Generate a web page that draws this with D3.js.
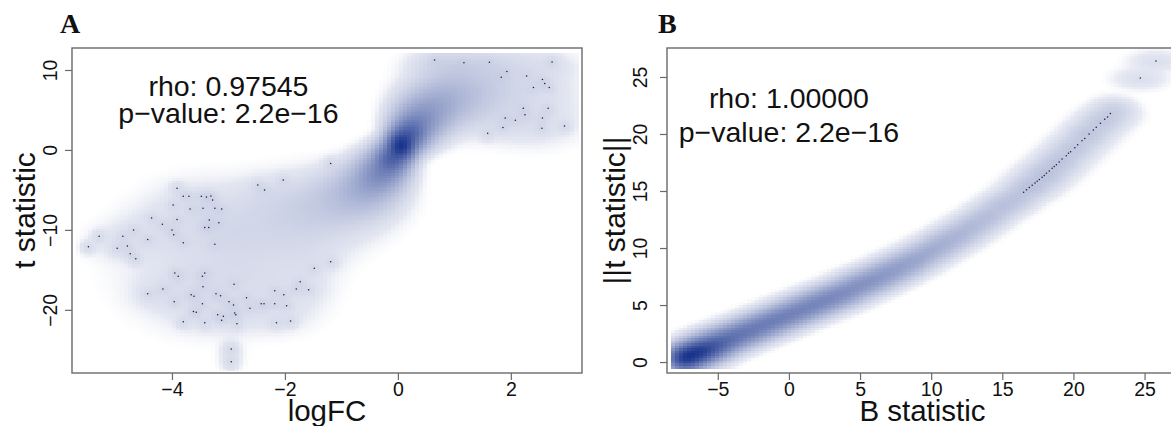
<!DOCTYPE html>
<html>
<head>
<meta charset="utf-8">
<script src="https://cdn.jsdelivr.net/npm/d3@7"></script>
<style>
body { margin: 0; background: #fff; }
svg text { font-family: "Liberation Sans", Arial, sans-serif; fill: #111; }
</style>
</head>
<body>
<div id="chart"></div>
<script>
// ---- panel A: logFC vs t statistic ----
var xTicksA = [-4, -2, 0, 2];
var yTicksA = [-20, -10, 0, 10];
var statsA = ["rho: 0.97545", "p\u2212value: 2.2e\u221216"];
// density: [logFC, t, spread logFC, spread t, genes]
var cloudA = [
  // main ridge through the origin
  [0.05, 0.6, 0.12, 0.9, 3000],
  [0.2, 2.0, 0.15, 1.0, 1400],
  [-0.12, -1.1, 0.15, 1.0, 1400],
  [0.35, 3.4, 0.2, 1.2, 700],
  [-0.3, -2.7, 0.2, 1.2, 700],
  [0.55, 4.9, 0.25, 1.4, 380],
  [-0.5, -4.2, 0.25, 1.4, 350],
  [0.85, 6.3, 0.3, 1.6, 230],
  [-0.8, -5.6, 0.35, 1.6, 180],
  [1.2, 7.5, 0.4, 2.0, 150],
  [-1.3, -7.2, 0.5, 2.0, 100],
  [-2.0, -9.0, 0.6, 2.5, 55],
  [-2.8, -11.5, 0.7, 3.0, 32],
  [-3.5, -14.5, 0.8, 4.0, 18],
  // up-regulated cloud
  [1.8, 7.8, 0.5, 2.4, 40],
  [2.4, 7.0, 0.45, 2.6, 14],
  [2.5, 3.5, 0.4, 1.5, 6],
  [2.0, 3.5, 0.4, 1.3, 7],
  [1.1, 10.5, 0.4, 1.0, 18],
  [1.9, 10.8, 0.3, 1.0, 4],
  [2.6, 10.5, 0.3, 1.0, 4],
  [0.7, 10.8, 0.25, 1.0, 6],
  // down-regulated cloud
  [-3.5, -7.5, 0.5, 2.0, 16],
  [-4.3, -10.5, 0.4, 1.8, 10],
  [-3.0, -10.5, 0.5, 2.0, 16],
  [-3.6, -16.5, 0.5, 2.0, 16],
  [-2.6, -16.0, 0.5, 2.0, 16],
  [-3.2, -20.0, 0.5, 1.6, 13],
  [-2.2, -20.0, 0.4, 1.5, 8],
  [-1.7, -17.0, 0.3, 1.5, 5],
  [-4.2, -18.0, 0.3, 1.2, 4],
  [-1.6, -13.0, 0.35, 1.6, 7],
  [-2.3, -6.0, 0.4, 1.5, 8],
  [-4.9, -11.5, 0.3, 1.3, 4],
  [-2.95, -25.5, 0.12, 1.2, 1.5]
];
// single genes drawn as dots: [logFC, t]
var dotsA = [
  [0.65, 11.25], [1.17, 10.9], [1.62, 10.96], [1.93, 9.8], [1.83, 9.1], [2.28, 9.25],
  [2.4, 7.8], [2.56, 8.8], [2.6, 8.3], [2.68, 7.8], [2.73, 11.0], [2.22, 5.2],
  [2.25, 4.4], [1.9, 4.0], [2.08, 3.7], [1.86, 2.8], [1.59, 2.1], [2.56, 4.0],
  [2.66, 5.2], [2.55, 2.7], [2.95, 3.0],
  [-1.19, -1.7], [-2.03, -3.75], [-2.48, -4.4], [-2.36, -5.0],
  [-3.91, -4.8], [-3.8, -5.8], [-3.7, -5.8], [-3.98, -6.9], [-3.68, -7.4], [-3.91, -8.7],
  [-3.48, -5.8], [-3.39, -5.9], [-3.31, -5.75], [-3.28, -6.25], [-3.45, -7.3], [-3.24, -7.3],
  [-3.12, -7.4], [-3.34, -8.75], [-3.42, -9.7], [-3.35, -9.7], [-3.17, -9.1], [-4.36, -8.5],
  [-4.17, -9.3], [-4.0, -10.0], [-3.97, -10.6], [-4.43, -11.2], [-3.8, -11.6], [-3.24, -11.8],
  [-5.48, -12.1], [-5.29, -10.8], [-4.87, -10.8], [-4.97, -12.3], [-4.79, -12.0], [-4.74, -13.0],
  [-4.64, -13.6], [-4.68, -10.0], [-3.95, -15.4], [-3.89, -15.8], [-3.42, -15.4], [-3.46, -15.8],
  [-3.45, -17.1], [-2.9, -16.8], [-4.43, -18.0], [-4.16, -17.4], [-3.66, -18.1], [-3.61, -18.3],
  [-3.22, -18.0], [-3.14, -18.25], [-3.96, -19.0], [-3.46, -19.25], [-3.62, -20.2], [-3.57, -20.3],
  [-3.19, -20.6], [-3.09, -20.8], [-2.89, -20.4], [-2.87, -20.6], [-3.12, -21.3], [-3.8, -21.5],
  [-3.42, -21.6], [-2.85, -21.75], [-2.99, -19.0], [-2.91, -19.4], [-2.68, -18.5], [-2.62, -19.8],
  [-2.42, -19.25], [-2.37, -19.25], [-2.18, -19.25], [-2.18, -17.6], [-2.02, -18.1], [-1.97, -19.5],
  [-2.15, -21.6], [-1.9, -21.4], [-1.8, -17.4], [-1.73, -16.5], [-1.58, -17.5], [-1.48, -14.8],
  [-1.19, -14.0], [-2.95, -24.9], [-2.95, -26.5]
];

// ---- panel B: B statistic vs |t| ----
var xTicksB = [-5, 0, 5, 10, 15, 20, 25];
var yTicksB = [0, 5, 10, 15, 20, 25];
var statsB = ["rho: 1.00000", "p\u2212value: 2.2e\u221216"];
// density: [B, |t|, spread B, spread |t|, genes]
var cloudB = [
  [-7.3, 0.4, 0.55, 0.5, 900], [-6.5, 0.8, 0.6, 0.5, 800], [-5.8, 1.2, 0.7, 0.5, 600],
  [-5, 1.7, 0.7, 0.5, 380], [-4, 2.2, 0.7, 0.5, 260], [-3, 2.7, 0.7, 0.5, 210],
  [-2, 3.2, 0.7, 0.5, 190], [-1, 3.7, 0.7, 0.5, 175], [0, 4.2, 0.7, 0.5, 160],
  [1, 4.7, 0.7, 0.5, 150], [2, 5.2, 0.7, 0.5, 140], [3, 5.7, 0.7, 0.5, 125],
  [4, 6.2, 0.7, 0.5, 110], [5, 6.8, 0.7, 0.5, 95], [6, 7.3, 0.7, 0.5, 82],
  [7, 7.9, 0.7, 0.5, 70], [8, 8.5, 0.7, 0.5, 56], [9, 9.1, 0.7, 0.5, 45],
  [10, 9.8, 0.7, 0.5, 36], [11, 10.5, 0.7, 0.5, 28], [12, 11.2, 0.7, 0.5, 22],
  [13, 12.0, 0.7, 0.5, 18], [14, 12.8, 0.7, 0.5, 15], [15, 13.7, 0.7, 0.5, 12],
  [16, 14.4, 0.7, 0.5, 10], [17, 15.4, 0.7, 0.5, 9], [18, 16.5, 0.7, 0.5, 8],
  [19, 17.6, 0.7, 0.5, 7], [20, 18.8, 0.7, 0.5, 6], [21, 20.0, 0.7, 0.5, 6],
  [22, 21.1, 0.7, 0.5, 5], [22.8, 22.1, 0.7, 0.5, 4]
];
// single genes drawn as dots: [B, |t|]
var dotsB = [
  [16.5, 14.9], [16.7, 15.1], [16.9, 15.3], [17.1, 15.5], [17.3, 15.7], [17.45, 15.85],
  [17.6, 16.0], [17.8, 16.2], [17.95, 16.35], [18.1, 16.55], [18.3, 16.75], [18.5, 17.0],
  [18.65, 17.15], [18.8, 17.3], [19.0, 17.55], [19.2, 17.8], [19.5, 18.1], [19.65, 18.3],
  [19.8, 18.45], [20.1, 18.8], [20.3, 19.05], [20.6, 19.4], [20.8, 19.6], [21.1, 20.0],
  [21.4, 20.35], [21.6, 20.6], [21.9, 20.95], [22.2, 21.3], [22.4, 21.5], [22.6, 21.8],
  [24.7, 24.9], [25.8, 26.4]
];

var svg = d3.select("#chart").append("svg")
  .attr("width", 1171)
  .attr("height", 426);

var ramp = d3.interpolateRgb("#ffffff", "#1a348c");

function drawPanel(p) {
  var x = d3.scaleLinear().domain(p.xDomain).range([p.left, p.right]);
  var y = d3.scaleLinear().domain(p.yDomain).range([p.bottom, p.top]);
  var g = svg.append("g");

  // smoothScatter-like binned density, fourth-root transformed
  var nb = 128;
  var dx = (p.xDomain[1] - p.xDomain[0]) / nb,
      dy = (p.yDomain[1] - p.yDomain[0]) / nb;
  var cells = [], vmax = 0;
  for (var i = 0; i < nb; i++) {
    for (var j = 0; j < nb; j++) {
      var cx = p.xDomain[0] + (i + 0.5) * dx,
          cy = p.yDomain[0] + (j + 0.5) * dy;
      if (cx < p.densX[0] || cx > p.densX[1] || cy < p.densY[0] || cy > p.densY[1]) continue;
      var v = 0;
      p.cloud.forEach(function(c) {
        var a = (cx - c[0]) / c[2], b = (cy - c[1]) / c[3];
        v += c[4] * Math.exp(-0.5 * (a * a + b * b)) / (c[2] * c[3]);
      });
      p.dots.forEach(function(d) {
        var a = (cx - d[0]) / p.bw[0], b = (cy - d[1]) / p.bw[1];
        v += Math.exp(-0.5 * (a * a + b * b)) / (p.bw[0] * p.bw[1]);
      });
      if (v > vmax) vmax = v;
      cells.push({x0: cx - dx / 2, y0: cy - dy / 2, v: v});
    }
  }
  // soft floor so faint tails fade out quickly, like the original image
  var fade = d3.scaleLinear().domain(p.cut).range([0, 1]).clamp(true);
  cells.forEach(function(c) {
    var t = Math.pow(c.v / vmax, 0.25);
    c.t = t * fade(t);
  });

  var clipId = "clip" + p.letter;
  svg.append("clipPath").attr("id", clipId).append("rect")
    .attr("x", p.left).attr("y", p.top)
    .attr("width", p.right - p.left).attr("height", p.bottom - p.top);

  g.append("g").attr("clip-path", "url(#" + clipId + ")")
    .selectAll("rect")
    .data(cells.filter(function(c) { return c.t > 0.005; }))
    .join("rect")
      .attr("x", function(d) { return x(d.x0); })
      .attr("y", function(d) { return y(d.y0 + dy); })
      .attr("width", function(d) { return x(d.x0 + dx) - x(d.x0) + 0.6; })
      .attr("height", function(d) { return y(d.y0) - y(d.y0 + dy) + 0.6; })
      .attr("fill", function(d) { return ramp(d.t); })
      .attr("shape-rendering", "crispEdges");

  g.append("g").attr("clip-path", "url(#" + clipId + ")")
    .selectAll("circle")
    .data(p.dots)
    .join("circle")
      .attr("cx", function(d) { return x(d[0]); })
      .attr("cy", function(d) { return y(d[1]); })
      .attr("r", 0.75)
      .attr("fill", "#1b1b2b");

  // box
  g.append("rect")
    .attr("x", p.left).attr("y", p.top)
    .attr("width", p.right - p.left).attr("height", p.bottom - p.top)
    .attr("fill", "none")
    .attr("stroke", "#6a6a6a")
    .attr("stroke-width", 1.4);

  var xAxis = g.append("g")
    .attr("transform", "translate(0," + p.bottom + ")")
    .call(d3.axisBottom(x).tickValues(p.xTicks).tickSize(7).tickPadding(2).tickSizeOuter(0));
  var yAxis = g.append("g")
    .attr("transform", "translate(" + p.left + ",0)")
    .call(d3.axisLeft(y).tickValues(p.yTicks).tickSize(7).tickSizeOuter(0));
  [xAxis, yAxis].forEach(function(a) {
    a.select(".domain").remove();
    a.selectAll(".tick line").attr("stroke", "#6a6a6a").attr("stroke-width", 1.2);
    a.selectAll(".tick text").attr("font-size", 19.5).attr("fill", "#111");
  });
  yAxis.selectAll(".tick text")
    .attr("transform", "rotate(-90)")
    .attr("x", 0)
    .attr("y", -p.yLabelGap)
    .attr("dy", 0)
    .attr("text-anchor", "middle");

  // axis titles
  g.append("text")
    .attr("x", (p.left + p.right) / 2)
    .attr("y", 421)
    .attr("text-anchor", "middle")
    .attr("font-size", 29.5)
    .text(p.xTitle);
  g.append("text")
    .attr("transform", "translate(" + p.yTitleX + "," + (p.top + p.bottom) / 2 + ") rotate(-90)")
    .attr("text-anchor", "middle")
    .attr("font-size", 30)
    .text(p.yTitle);

  // correlation note
  g.selectAll(".stat")
    .data(p.stats)
    .join("text")
      .attr("class", "stat")
      .attr("x", x(p.statX))
      .attr("y", function(d, i) { return p.statY[i]; })
      .attr("text-anchor", "middle")
      .attr("font-size", 28.5)
      .text(function(d) { return d; });

  // panel letter
  g.append("text")
    .attr("x", p.letterX)
    .attr("y", 33)
    .style("font-family", "'Liberation Serif', 'Times New Roman', serif")
    .style("font-weight", "bold")
    .attr("font-size", 28)
    .text(p.letter);
}

drawPanel({
  letter: "A", letterX: 60,
  left: 72, right: 582, top: 48, bottom: 373,
  xDomain: [-5.77, 3.26], yDomain: [-27.9, 12.75],
  densX: [-5.7, 3.2], densY: [-27.5, 12.2],
  xTicks: xTicksA, yTicks: yTicksA,
  cloud: cloudA, dots: dotsA, bw: [0.08, 0.5], cut: [0.05, 0.12],
  xTitle: "logFC", yTitle: "t statistic", yTitleX: 35, yLabelGap: 15,
  stats: statsA, statX: -3.0, statY: [96, 123]
});

drawPanel({
  letter: "B", letterX: 658,
  left: 667, right: 1178, top: 48, bottom: 373,
  xDomain: [-8.57, 27.35], yDomain: [-0.96, 27.54],
  densX: [-8.3, 27.35], densY: [-0.55, 27.54],
  xTicks: xTicksB, yTicks: yTicksB,
  cloud: cloudB, dots: dotsB, bw: [0.9, 0.45], cut: [0.04, 0.1],
  xTitle: "B statistic", yTitle: "||t statistic||", yTitleX: 625, yLabelGap: 20,
  stats: statsB, statX: 0, statY: [108, 142]
});
</script>
</body>
</html>
